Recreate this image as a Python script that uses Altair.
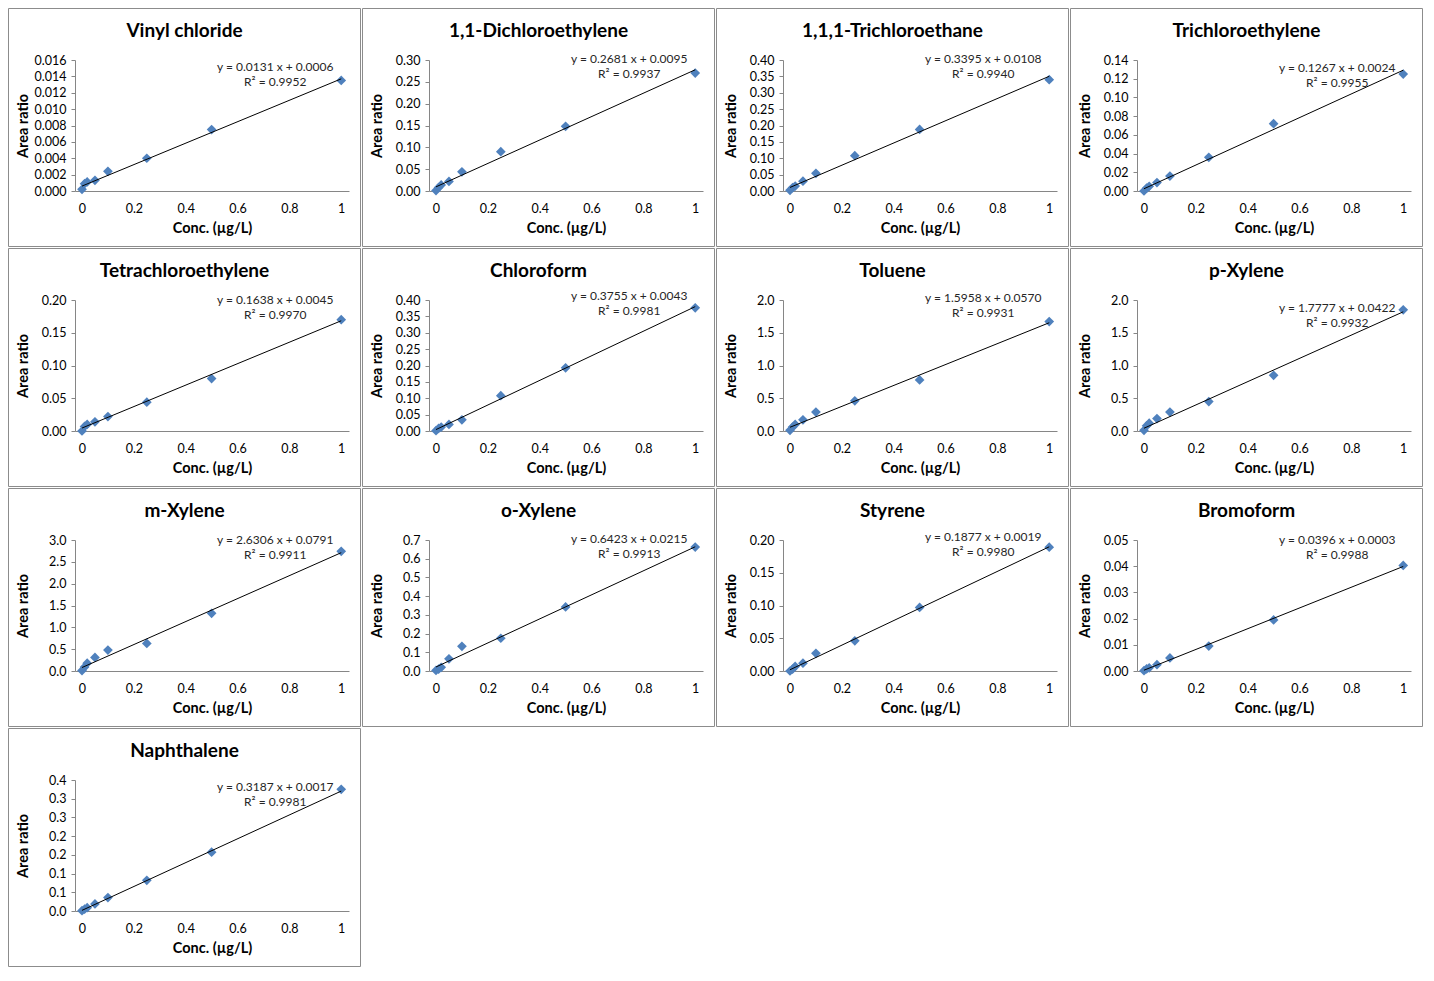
import altair as alt
import pandas as pd
import numpy as np

# ---------------- data ----------------
conc = [0, 0.01, 0.02, 0.05, 0.1, 0.25, 0.5, 1.0]

names = ["Vinyl chloride", "1,1-Dichloroethylene", "1,1,1-Trichloroethane",
         "Trichloroethylene", "Tetrachloroethylene", "Chloroform", "Toluene",
         "p-Xylene", "m-Xylene", "o-Xylene", "Styrene", "Bromoform", "Naphthalene"]

vinyl_chloride = [0.0002, 0.0009, 0.0011, 0.0013, 0.0024, 0.0040, 0.0075, 0.0135]
dichloroethylene = [0.001, 0.008, 0.014, 0.022, 0.044, 0.090, 0.148, 0.270]
trichloroethane = [0.002, 0.010, 0.015, 0.030, 0.054, 0.108, 0.188, 0.340]
trichloroethylene = [0.000, 0.003, 0.005, 0.009, 0.016, 0.036, 0.072, 0.125]
tetrachloroethylene = [0.000, 0.007, 0.010, 0.014, 0.022, 0.044, 0.080, 0.170]
chloroform = [0.001, 0.008, 0.012, 0.020, 0.034, 0.108, 0.193, 0.376]
toluene = [0.01, 0.06, 0.10, 0.17, 0.29, 0.46, 0.78, 1.67]
p_xylene = [0.01, 0.08, 0.12, 0.19, 0.29, 0.45, 0.85, 1.85]
m_xylene = [0.01, 0.09, 0.18, 0.31, 0.48, 0.63, 1.32, 2.74]
o_xylene = [0.003, 0.010, 0.020, 0.065, 0.132, 0.175, 0.342, 0.662]
styrene = [0.000, 0.003, 0.007, 0.012, 0.027, 0.046, 0.097, 0.189]
bromoform = [0.0001, 0.0008, 0.0012, 0.0024, 0.0050, 0.0095, 0.0195, 0.0403]
naphthalene = [0.001, 0.005, 0.009, 0.019, 0.036, 0.082, 0.157, 0.325]

series = [vinyl_chloride, dichloroethylene, trichloroethane, trichloroethylene,
          tetrachloroethylene, chloroform, toluene, p_xylene, m_xylene, o_xylene,
          styrene, bromoform, naphthalene]

slopes = [0.0131, 0.2681, 0.3395, 0.1267, 0.1638, 0.3755, 1.5958, 1.7777,
          2.6306, 0.6423, 0.1877, 0.0396, 0.3187]
intercepts = [0.0006, 0.0095, 0.0108, 0.0024, 0.0045, 0.0043, 0.0570, 0.0422,
              0.0791, 0.0215, 0.0019, 0.0003, 0.0017]
r_squared = ["0.9952", "0.9937", "0.9940", "0.9955", "0.9970", "0.9981", "0.9931",
             "0.9932", "0.9911", "0.9913", "0.9980", "0.9988", "0.9981"]

y_max = [0.016, 0.30, 0.40, 0.14, 0.20, 0.40, 2.0, 2.0, 3.0, 0.7, 0.20, 0.05, 0.35]
y_step = [0.002, 0.05, 0.05, 0.02, 0.05, 0.05, 0.5, 0.5, 0.5, 0.1, 0.05, 0.01, 0.05]
y_format = [".3f", ".2f", ".2f", ".2f", ".2f", ".2f", ".1f", ".1f", ".1f", ".1f",
            ".2f", ".2f", ".1f"]
# Excel shows Naphthalene's 0.05-step ticks rounded to one decimal
y_round1 = [False] * 12 + [True]
x_ticks = [0, 0.2, 0.4, 0.6, 0.8, 1]

# ---------------- styling ----------------
FONT = "Lato"
CELL_W, CELL_H = 353, 239
LEFT, TOP = 67, 52
W, H = 274, 131
RIGHT = CELL_W - LEFT - W
BOTTOM = CELL_H - TOP - H
BLUE = "#4F81BD"
AXIS_GRAY = "#868686"
# vertical position (cell px) of the equation's first line, per panel
eq_top = [60, 52, 52, 61, 53, 49, 51, 62, 53, 52, 50, 53, 60]
EQ_X = 271


def panel(i):
    df = pd.DataFrame({"x": conc, "y": series[i]})
    line_df = pd.DataFrame({"x": [0, 1],
                            "y": [intercepts[i], slopes[i] * 1 + intercepts[i]]})
    yt = [round(float(v), 6) for v in np.arange(0, y_max[i] + y_step[i] / 2, y_step[i])]

    xs = alt.Scale(domain=[-0.027, 1.03], nice=False, zero=False)
    ys = alt.Scale(domain=[0, y_max[i]], nice=False, zero=False)

    xaxis = alt.Axis(values=x_ticks, format="~g", title="Conc. (µg/L)", grid=False,
                     ticks=False, labelPadding=11, minExtent=22, maxExtent=22,
                     titlePadding=8)
    ykw = dict(values=yt, format=y_format[i], title="Area ratio", grid=False,
               ticks=True, tickSize=4, tickColor=AXIS_GRAY, labelPadding=5,
               minExtent=38, maxExtent=38, titlePadding=7)
    if y_round1[i]:
        ykw["labelExpr"] = "format(round(datum.value * 10 + 1e-6) / 10, '.1f')"
    yaxis = alt.Axis(**ykw)

    X = alt.X("x:Q", scale=xs, axis=xaxis)
    Y = alt.Y("y:Q", scale=ys, axis=yaxis)

    frame = alt.Chart(pd.DataFrame({"a": [0]})).mark_rect(
        fillOpacity=0, stroke="#8c8c8c", strokeWidth=1
    ).encode(x=alt.value(-LEFT + 0.5), x2=alt.value(W + RIGHT - 0.5),
             y=alt.value(-TOP + 0.5), y2=alt.value(H + BOTTOM - 0.5))

    pts = alt.Chart(df).mark_point(
        shape="diamond", filled=True, size=95, color=BLUE, opacity=1
    ).encode(x=X, y=Y)

    trend = alt.Chart(line_df).mark_line(color="black", strokeWidth=1).encode(x=X, y=Y)

    ey = eq_top[i] * CELL_H / 245 - TOP
    ex = EQ_X * CELL_W / 358 - LEFT
    eq1 = alt.Chart(pd.DataFrame({"t": [f"y = {slopes[i]:.4f} x + {intercepts[i]:.4f}"]})).mark_text(
        font=FONT, fontSize=12, color="#262626", align="center", baseline="middle"
    ).encode(text="t:N", x=alt.value(ex), y=alt.value(ey))
    eq2 = alt.Chart(pd.DataFrame({"t": [f"R² = {r_squared[i]}"]})).mark_text(
        font=FONT, fontSize=12, color="#262626", align="center", baseline="middle"
    ).encode(text="t:N", x=alt.value(ex), y=alt.value(ey + 15))

    title = alt.Chart(pd.DataFrame({"t": [names[i]]})).mark_text(
        font=FONT, fontSize=19, fontWeight="bold", color="black", align="center",
        baseline="middle"
    ).encode(text="t:N", x=alt.value(CELL_W / 2 - LEFT), y=alt.value(24 * CELL_H / 245 - TOP))

    return alt.layer(pts, trend, frame, eq1, eq2, title).properties(width=W, height=H)


chart = alt.concat(*[panel(i) for i in range(len(names))], columns=4, spacing=1).properties(
    padding=0, background="white"
).configure_view(stroke=None).configure_axis(
    labelFont=FONT, titleFont=FONT, labelFontSize=12.5, titleFontSize=14.5,
    labelColor="black", titleColor="black", titleFontWeight="bold",
    domainColor=AXIS_GRAY, domainWidth=1
)

chart.save("out.html", embed_options={"renderer": "svg", "actions": False})
